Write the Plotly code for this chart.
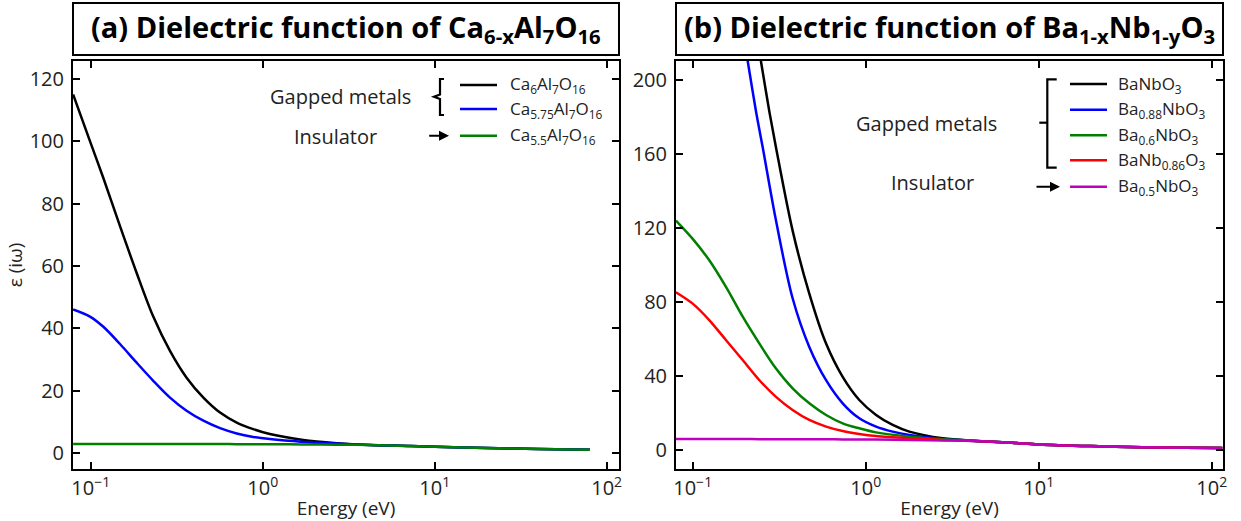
import plotly.graph_objects as go

W, H = 1241, 521

# ---------------- data: panel (a) Ca6-xAl7O16 ----------------
energy_a = [0.079, 0.099, 0.118, 0.148, 0.185, 0.231, 0.289, 0.361, 0.452, 0.565,
            0.706, 0.881, 1.10, 1.72, 2.69, 4.2, 7.0, 10.0, 20.0, 40.0, 80.0]
eps_ca6 = [115.1, 100.1, 88.5, 72.8, 57.8, 43.8, 32.8, 24.2, 17.8, 13.0,
           9.8, 7.7, 6.1, 4.2, 3.2, 2.6, 2.3, 2.0, 1.6, 1.3, 1.1]
eps_ca575 = [46.1, 43.8, 40.6, 35.0, 29.0, 23.2, 17.8, 13.6, 10.4, 8.0,
             6.3, 5.2, 4.5, 3.6, 3.05, 2.6, 2.3, 2.0, 1.6, 1.3, 1.1]
eps_ca55 = [2.9, 2.9, 2.9, 2.9, 2.9, 2.9, 2.9, 2.9, 2.9, 2.9,
            2.88, 2.87, 2.85, 2.8, 2.7, 2.6, 2.3, 2.0, 1.6, 1.3, 1.1]

# ---------------- data: panel (b) Ba1-xNb1-yO3 ----------------
energy_b = [0.080, 0.100, 0.125, 0.156, 0.195, 0.243, 0.303, 0.378, 0.472, 0.590,
            0.736, 0.918, 1.148, 1.786, 2.786, 4.345, 7.0, 10.0, 20.0, 40.0, 70.0, 115.0]
eps_ba06 = [124.0, 114.1, 102.4, 88.0, 71.9, 57.5, 44.0, 33.3, 25.2, 18.9,
            14.4, 11.7, 9.5, 7.2, 5.8, 4.9, 3.9, 3.0, 2.1, 1.5, 1.2, 1.05]
eps_banb086 = [85.3, 79.1, 70.1, 59.3, 48.5, 37.7, 28.7, 21.6, 16.2, 12.6,
               10.2, 8.6, 7.5, 6.3, 5.4, 4.9, 3.9, 3.0, 2.1, 1.5, 1.2, 1.05]
eps_ba05 = [5.9, 5.9, 5.9, 5.9, 5.9, 5.85, 5.85, 5.8, 5.8, 5.75,
            5.7, 5.65, 5.6, 5.4, 5.15, 4.9, 3.9, 3.0, 2.1, 1.5, 1.2, 1.05]

energy_banbo3 = [0.236, 0.248, 0.277, 0.303, 0.378, 0.472, 0.590, 0.736, 0.918, 1.148,
                 1.432, 1.786, 2.786, 4.345, 7.0, 10.0, 20.0, 40.0, 70.0, 115.0]
eps_banbo3 = [222.0, 210.2, 183.3, 163.5, 118.6, 84.5, 57.5, 39.5, 27.0, 18.9,
              13.5, 9.9, 6.3, 4.9, 3.9, 3.0, 2.1, 1.5, 1.2, 1.05]
energy_ba088 = [0.198, 0.208, 0.232, 0.254, 0.303, 0.378, 0.472, 0.590, 0.736, 0.918,
                1.148, 1.432, 1.786, 2.786, 4.345, 7.0, 10.0, 20.0, 40.0, 70.0, 115.0]
eps_ba088 = [222.0, 210.2, 183.3, 163.5, 124.0, 82.0, 55.7, 37.7, 25.2, 17.1,
             12.6, 9.9, 8.1, 5.9, 4.9, 3.9, 3.0, 2.1, 1.5, 1.2, 1.05]

# ---------------- labels ----------------
x_tickvals = [0.1, 1, 10, 100]
x_ticktext = ["10<sup>−1</sup>", "10<sup>0</sup>", "10<sup>1</sup>", "10<sup>2</sup>"]
ya_ticks = [0, 20, 40, 60, 80, 100, 120]
yb_ticks = [0, 40, 80, 120, 160, 200]

names_a = ["Ca<sub>6</sub>Al<sub>7</sub>O<sub>16</sub>",
           "Ca<sub>5.75</sub>Al<sub>7</sub>O<sub>16</sub>",
           "Ca<sub>5.5</sub>Al<sub>7</sub>O<sub>16</sub>"]
names_b = ["BaNbO<sub>3</sub>", "Ba<sub>0.88</sub>NbO<sub>3</sub>", "Ba<sub>0.6</sub>NbO<sub>3</sub>",
           "BaNb<sub>0.86</sub>O<sub>3</sub>", "Ba<sub>0.5</sub>NbO<sub>3</sub>"]
title_a = "<b>(a) Dielectric function of Ca<sub>6-x</sub>Al<sub>7</sub>O<sub>16</sub></b>"
title_b = "<b>(b) Dielectric function of Ba<sub>1-x</sub>Nb<sub>1-y</sub>O<sub>3</sub></b>"

col_a = ["#000000", "#0000ff", "#008000"]
col_b = ["#000000", "#0000ff", "#008000", "#ff0000", "#bf00bf"]

FONT = "Open Sans"


def fx(p):
    return p / W


def fy(p):
    return 1 - p / H


# panel pixel geometry
A_L, A_R = 73, 619
B_L, B_R = 676, 1223
TOP, BOT = 61, 469

fig = go.Figure()

series_a = [(energy_a, eps_ca6), (energy_a, eps_ca575), (energy_a, eps_ca55)]
series_b = [(energy_banbo3, eps_banbo3), (energy_ba088, eps_ba088), (energy_b, eps_ba06),
            (energy_b, eps_banb086), (energy_b, eps_ba05)]

for (xs, ys), c, n in zip(series_a, col_a, names_a):
    fig.add_trace(go.Scatter(x=xs, y=ys, mode="lines", name=n, showlegend=False,
                             line=dict(color=c, width=2.5, shape="spline", smoothing=0.9),
                             xaxis="x", yaxis="y"))
for (xs, ys), c, n in zip(series_b, col_b, names_b):
    fig.add_trace(go.Scatter(x=xs, y=ys, mode="lines", name=n, showlegend=False,
                             line=dict(color=c, width=2.5, shape="spline", smoothing=0.9),
                             xaxis="x2", yaxis="y2"))

axis_common = dict(showline=True, linewidth=2, linecolor="black", mirror="ticks",
                   ticks="inside", ticklen=7, tickwidth=2, tickcolor="black",
                   showgrid=False, zeroline=False,
                   tickfont=dict(family=FONT, size=20, color="#222"))

fig.update_layout(
    width=W, height=H, autosize=False,
    margin=dict(l=0, r=0, t=0, b=0),
    paper_bgcolor="white", plot_bgcolor="white",
    xaxis=dict(axis_common, type="log", range=[-1.103, 2.0715],
               domain=[fx(A_L), fx(A_R)], anchor="y", ticklabelstandoff=0,
               tickvals=x_tickvals, ticktext=x_ticktext,
               title=dict(text="Energy (eV)", font=dict(family=FONT, size=19, color="#222"), standoff=6)),
    yaxis=dict(axis_common, range=[-5.1, 125.8], domain=[fy(BOT), fy(TOP)], anchor="x",
               tickvals=ya_ticks, automargin=False, ticklabelstandoff=3,
               title=dict(text="ε (iω)", font=dict(family=FONT, size=19, color="#222"), standoff=2)),
    xaxis2=dict(axis_common, type="log", range=[-1.0965, 2.065],
                domain=[fx(B_L), fx(B_R)], anchor="y2", ticklabelstandoff=0,
                tickvals=x_tickvals, ticktext=x_ticktext,
                title=dict(text="Energy (eV)", font=dict(family=FONT, size=19, color="#222"), standoff=6)),
    yaxis2=dict(axis_common, range=[-10.3, 210.3], domain=[fy(BOT), fy(TOP)], anchor="x2",
                tickvals=yb_ticks, automargin=False, ticklabelstandoff=3),
)
fig.update_xaxes(automargin=False)

shapes = []
annos = []

# title boxes
for (l, r, t) in [(A_L, A_R, title_a), (B_L, B_R, title_b)]:
    shapes.append(dict(type="rect", xref="paper", yref="paper",
                       x0=fx(l), x1=fx(r), y0=fy(55), y1=fy(3),
                       line=dict(color="black", width=2), fillcolor="white"))
    annos.append(dict(xref="paper", yref="paper", x=fx((l + r) / 2), y=fy(29),
                      xanchor="center", yanchor="middle", showarrow=False, text=t,
                      font=dict(family=FONT, size=29, color="black")))

# legends (manual)
leg_a_rows = [85, 109, 135.7]
for yrow, c, n in zip(leg_a_rows, col_a, names_a):
    shapes.append(dict(type="line", xref="paper", yref="paper", x0=fx(460), x1=fx(497),
                       y0=fy(yrow), y1=fy(yrow), line=dict(color=c, width=2.5)))
    annos.append(dict(xref="paper", yref="paper", x=fx(508), y=fy(yrow), xanchor="left",
                      yanchor="middle", showarrow=False, text=n,
                      font=dict(family=FONT, size=17, color="#222")))

leg_b_rows = [84, 109.7, 135.3, 160.3, 186.7]
for yrow, c, n in zip(leg_b_rows, col_b, names_b):
    shapes.append(dict(type="line", xref="paper", yref="paper", x0=fx(1070), x1=fx(1107),
                       y0=fy(yrow), y1=fy(yrow), line=dict(color=c, width=2.5)))
    annos.append(dict(xref="paper", yref="paper", x=fx(1116), y=fy(yrow), xanchor="left",
                      yanchor="middle", showarrow=False, text=n,
                      font=dict(family=FONT, size=17, color="#222")))

# group labels
for (xc, yc, txt) in [(340, 96.7, "Gapped metals"), (335, 136.7, "Insulator"),
                      (926, 123.3, "Gapped metals"), (932.7, 182.5, "Insulator")]:
    annos.append(dict(xref="paper", yref="paper", x=fx(xc), y=fy(yc), xanchor="center",
                      yanchor="middle", showarrow=False, text=txt,
                      font=dict(family=FONT, size=20, color="#222")))


def path(pts):
    s = ""
    for i, (a, b) in enumerate(pts):
        s += ("M" if i == 0 else "L") + f" {fx(a):.5f} {fy(b):.5f} "
    return s


# brace (a)
shapes.append(dict(type="path", xref="paper", yref="paper",
                   path=path([(444, 79), (440, 79), (440, 94.5), (434, 96.7), (440, 99),
                              (440, 115), (444, 115)]),
                   line=dict(color="black", width=2.2)))
# bracket (b)
shapes.append(dict(type="path", xref="paper", yref="paper",
                   path=path([(1056.7, 79.3), (1047.3, 79.3), (1047.3, 167.7), (1056.7, 167.7)]),
                   line=dict(color="black", width=2.2)))
shapes.append(dict(type="line", xref="paper", yref="paper", x0=fx(1039.3), x1=fx(1047.3),
                   y0=fy(122.7), y1=fy(122.7), line=dict(color="black", width=2.2)))

# arrows
for (x0, x1, yy) in [(427.7, 449, 135.7), (1035, 1060, 186.7)]:
    annos.append(dict(xref="paper", yref="paper", x=fx(x1), y=fy(yy), ax=x0 - x1, ay=0,
                      axref="pixel", ayref="pixel", text="", showarrow=True,
                      arrowhead=2, arrowsize=1, arrowwidth=2, arrowcolor="black"))

fig.update_layout(shapes=shapes, annotations=annos)

fig.write_html("out.html", config={"displayModeBar": False},
               post_script="document.body.style.margin='0px';")
